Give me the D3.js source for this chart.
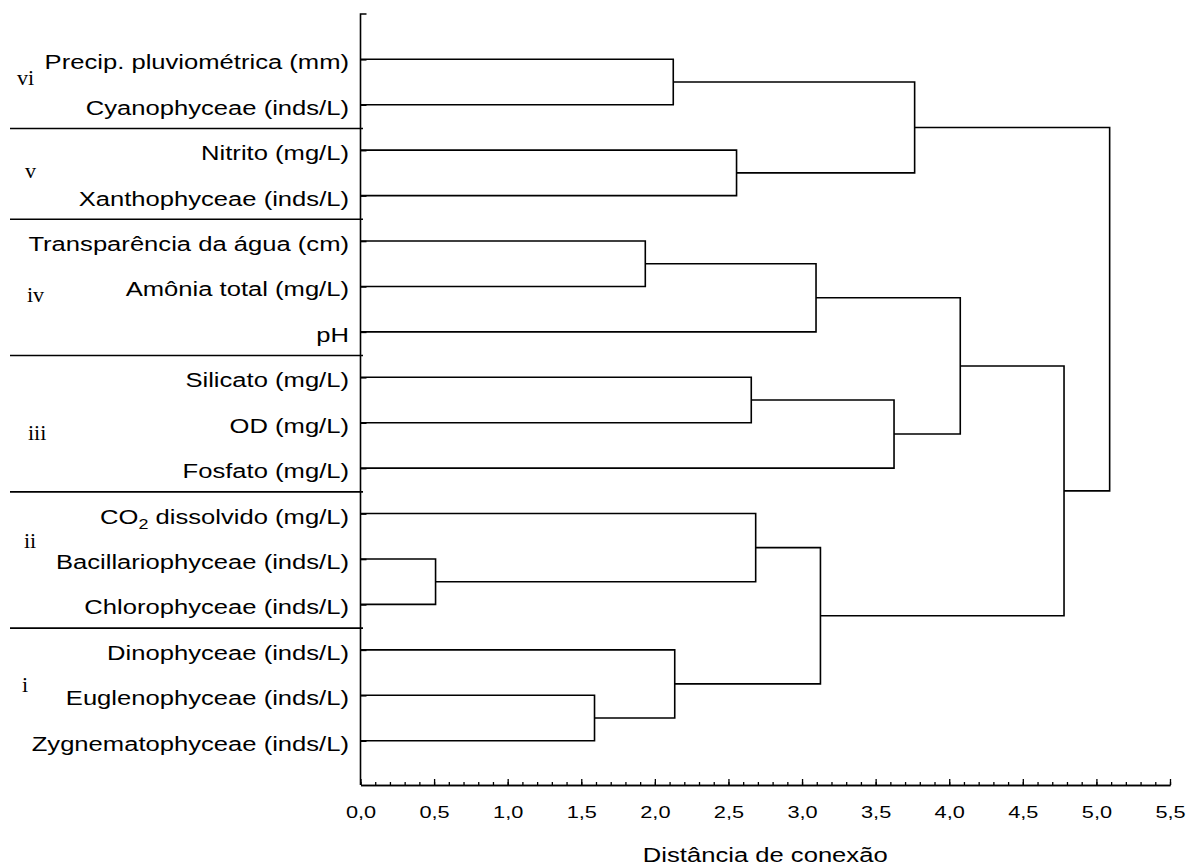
<!DOCTYPE html>
<html>
<head>
<meta charset="utf-8">
<script src="https://cdn.jsdelivr.net/npm/d3@7"></script>
<style>
  body { margin: 0; background: #fff; }
  svg text { font-family: "Liberation Sans", Arial, sans-serif; fill: #000; }
</style>
</head>
<body>
<svg id="chart" width="1196" height="868"></svg>
<script>
// Leaves, top to bottom ("_2" marks a subscript)
const leafLabels = [
    "Precip. pluviométrica (mm)",
    "Cyanophyceae (inds/L)",
    "Nitrito (mg/L)",
    "Xanthophyceae (inds/L)",
    "Transparência da água (cm)",
    "Amônia total (mg/L)",
    "pH",
    "Silicato (mg/L)",
    "OD (mg/L)",
    "Fosfato (mg/L)",
    "CO_2 dissolvido (mg/L)",
    "Bacillariophyceae (inds/L)",
    "Chlorophyceae (inds/L)",
    "Dinophyceae (inds/L)",
    "Euglenophyceae (inds/L)",
    "Zygnematophyceae (inds/L)"
];

// Groups of leaves, top to bottom
const groupNames = ["vi", "v", "iv", "iii", "ii", "i"];
const groupSizes = [2, 2, 3, 3, 3, 3];

// Linkage: merge k creates node 16 + k out of two earlier nodes
const mergeLeft   = [11, 14, 4, 0, 13, 2, 7, 10, 18, 23, 22, 19, 24, 28, 27];
const mergeRight  = [12, 15, 5, 1, 17, 3, 8, 16, 6, 20, 9, 21, 26, 25, 29];
const mergeHeight = [0.51, 1.59, 1.935, 2.125, 2.135, 2.555, 2.655, 2.685,
                     3.095, 3.125, 3.625, 3.765, 4.075, 4.78, 5.09];

const majorTicks = [0, 0.5, 1, 1.5, 2, 2.5, 3, 3.5, 4, 4.5, 5, 5.5];
const minorTicks = d3.range(56).map(i => i / 10);
const xTitle = "Distância de conexão";

// layout (the source picture has wide, horizontally stretched lettering)
const stretch = 1.28;
const axisY = 785, axisTop = 14;
const lineW = 1.6;
// where the group numerals sit: fractional row and left edge
const groupLabelRow = [0.57, 2.61, 5.34, 8.38, 10.76, 13.92];
const groupLabelX = [17, 25, 27, 28, 24, 22];

const svg = d3.select("#chart");

const x = d3.scaleLinear().domain([0, 5.5]).range([360.5, 1170]);
const y = d3.scaleLinear().domain([0, leafLabels.length - 1]).range([59.3, 740.7]);

// node positions
const nodeX = leafLabels.map(() => 0);
const nodeY = leafLabels.map((d, i) => y(i));
mergeHeight.forEach((h, k) => {
    nodeX.push(h);
    nodeY.push((nodeY[mergeLeft[k]] + nodeY[mergeRight[k]]) / 2);
});

// group separators
let start = 0;
const bounds = [];
groupSizes.forEach(n => { bounds.push(start); start += n; });

svg.append("g").selectAll("line")
    .data(bounds.slice(1))
    .join("line")
    .attr("x1", 10)
    .attr("x2", x(0) + 2.5)
    .attr("y1", d => y(d - 0.5) + 1)
    .attr("y2", d => y(d - 0.5) + 1)
    .attr("stroke", "#000")
    .attr("stroke-width", lineW);

// group numerals
svg.append("g").selectAll("text")
    .data(groupNames)
    .join("text")
    .attr("x", (d, i) => groupLabelX[i])
    .attr("y", (d, i) => y(groupLabelRow[i]))
    .style("font-family", '"Liberation Serif", "Times New Roman", serif')
    .attr("font-size", 22)
    .text(d => d);

// leaf labels
const labels = svg.append("g").selectAll("text")
    .data(leafLabels)
    .join("text")
    .attr("transform", (d, i) => `translate(349,${y(i) + 10}) scale(${stretch},1)`)
    .attr("text-anchor", "end")
    .attr("font-size", 20);

labels.each(function(d) {
    const t = d3.select(this);
    const parts = d.split(/_(\d)/);
    if (parts.length === 1) { t.text(d); return; }
    t.append("tspan").text(parts[0]);
    t.append("tspan").attr("font-size", 14).attr("dy", 5).text(parts[1]);
    t.append("tspan").attr("dy", -5).text(parts[2]);
});

// dendrogram links
svg.append("g").selectAll("path")
    .data(mergeHeight)
    .join("path")
    .attr("fill", "none")
    .attr("stroke", "#000")
    .attr("stroke-width", lineW)
    .attr("d", (h, k) => {
        const l = mergeLeft[k], r = mergeRight[k];
        return `M${x(nodeX[l])},${nodeY[l]}H${x(h)}V${nodeY[r]}H${x(nodeX[r])}`;
    });

// y axis frame with leaf ticks
svg.append("path")
    .attr("fill", "none")
    .attr("stroke", "#000")
    .attr("stroke-width", lineW)
    .attr("d", `M${x(0) + 6},${axisTop}H${x(0)}V${axisY}`);

const yAxis = svg.append("g")
    .attr("transform", `translate(${x(0)},0)`)
    .call(d3.axisRight(y).tickValues(d3.range(leafLabels.length)).tickSize(6).tickFormat(""));
yAxis.select(".domain").remove();
yAxis.selectAll("line").attr("stroke-width", lineW);

// x axis: minor then major ticks
const fmt = d => d.toFixed(1).replace(".", ",");

const xMinor = svg.append("g")
    .attr("transform", `translate(0,${axisY})`)
    .call(d3.axisBottom(x).tickValues(minorTicks).tickSizeInner(-3).tickSizeOuter(0).tickFormat(""));
xMinor.selectAll("line").attr("stroke-width", 1.3);
xMinor.select(".domain").attr("stroke-width", lineW);

const xMajor = svg.append("g")
    .attr("transform", `translate(0,${axisY})`)
    .call(d3.axisBottom(x).tickValues(majorTicks).tickSizeInner(-6).tickSizeOuter(0).tickPadding(21).tickFormat(fmt));
xMajor.select(".domain").attr("stroke-width", lineW);
xMajor.selectAll("line").attr("stroke-width", 1.3);
xMajor.selectAll("text")
    .attr("font-size", 17)
    .style("font-family", '"Liberation Sans", Arial, sans-serif')
    .attr("transform", `scale(${stretch},1)`);

// axis title
svg.append("text")
    .attr("transform", `translate(${(x(0) + x(5.5)) / 2},862) scale(${stretch},1)`)
    .attr("text-anchor", "middle")
    .attr("font-size", 20)
    .text(xTitle);
</script>
</body>
</html>
